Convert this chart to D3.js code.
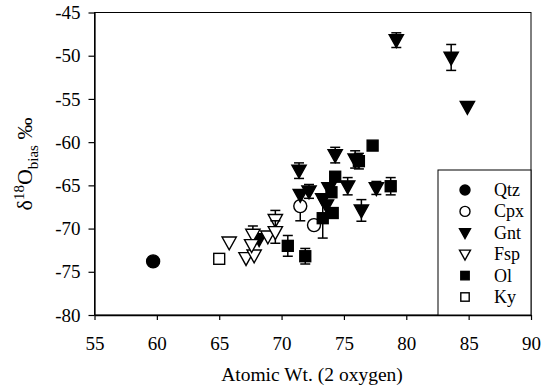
<!DOCTYPE html>
<html>
<head>
<meta charset="utf-8">
<script src="https://cdn.jsdelivr.net/npm/d3@7"></script>
<style>
  body { margin: 0; background: #fff; }
  text { font-family: "Liberation Serif", "DejaVu Serif", serif; fill: #000; }
</style>
</head>
<body>
<script>
// chart size
var w = 554;
var h = 387;

// data: [atomic wt, d18O bias, error]
var qtz = [[59.7, -73.8, 0]];
var cpx = [[71.5, -67.4, 1.7], [72.6, -69.6, 0]];
var gnt = [[79.2, -48.2, 0.85], [83.6, -50.2, 1.5], [84.9, -55.9, 0],
           [71.4, -63.3, 0.9], [74.3, -61.5, 0.9], [75.9, -62.0, 1.0],
           [75.3, -65.1, 1.0], [77.6, -65.3, 0.75], [76.4, -67.9, 1.25],
           [71.5, -66.1, 0], [72.2, -65.7, 0.8], [73.3, -66.6, 0],
           [73.8, -65.3, 0], [73.6, -67.3, 0], [68.2, -71.2, 0]];
var fsp = [[65.8, -71.6, 0], [67.15, -73.4, 0], [67.8, -73.1, 0],
           [67.7, -70.7, 1.0], [67.6, -71.9, 0], [68.9, -70.9, 0],
           [69.5, -69.0, 1.1], [69.5, -70.4, 1.3]];
var ol = [[77.3, -60.4, 0], [76.2, -62.2, 0.9], [74.3, -64.0, 0],
          [74.0, -65.8, 0], [78.75, -65.1, 1.0], [73.3, -68.8, 2.3],
          [74.1, -68.2, 0], [70.5, -72.0, 1.2], [71.9, -73.2, 0.9]];
var ky = [[65.0, -73.5, 0]];

var xTicks = [55, 60, 65, 70, 75, 80, 85, 90];
var yTicks = [-45, -50, -55, -60, -65, -70, -75, -80];

var series = [
  {name: "Qtz", data: qtz, shape: "circle", fill: "#000"},
  {name: "Cpx", data: cpx, shape: "circle", fill: "#fff"},
  {name: "Gnt", data: gnt, shape: "tri", fill: "#000"},
  {name: "Fsp", data: fsp, shape: "tri", fill: "#fff"},
  {name: "Ol", data: ol, shape: "square", fill: "#000"},
  {name: "Ky", data: ky, shape: "square", fill: "#fff"}
];

var mLeft = 94.5, mRight = 531, mTop = 12.5, mBottom = 315;

var svg = d3.select("body").append("svg")
  .attr("width", w)
  .attr("height", h);

var xScale = d3.scaleLinear().domain([55, 90]).range([mLeft, mRight]);
var yScale = d3.scaleLinear().domain([-80, -45]).range([mBottom, mTop]);

// frame
svg.append("rect")
  .attr("x", mLeft).attr("y", mTop)
  .attr("width", mRight - mLeft).attr("height", mBottom - mTop)
  .attr("fill", "none").attr("stroke", "#000").attr("stroke-width", 1);

// axes
var xAxis = svg.append("g")
  .attr("transform", "translate(0," + mBottom + ")")
  .call(d3.axisBottom(xScale).tickValues(xTicks).tickSize(5).tickPadding(17).tickSizeOuter(0));
var yAxis = svg.append("g")
  .attr("transform", "translate(" + mLeft + ",0)")
  .call(d3.axisLeft(yScale).tickValues(yTicks).tickSize(6).tickPadding(8).tickSizeOuter(0)
        .tickFormat(function(d) { return "-" + Math.abs(d); }));

[xAxis, yAxis].forEach(function(a) {
  a.select(".domain").attr("stroke", "#000").attr("stroke-width", 1.3);
  a.selectAll(".tick line").attr("stroke", "#000").attr("stroke-width", 1.2);
  a.selectAll(".tick text")
    .style("font-family", "Liberation Serif")
    .style("font-size", "19px")
    .attr("fill", "#000");
});

// marker drawing
function drawMarker(g, shape, fill, size) {
  var s;
  if (shape == "circle") {
    s = g.append("circle").attr("r", size / 2);
  } else if (shape == "tri") {
    var a = size * 0.55;
    s = g.append("path")
      .attr("d", "M" + (-a) + "," + (-a * 0.75) + "L" + a + "," + (-a * 0.75) + "L0," + (a * 1.05) + "Z");
  } else {
    s = g.append("rect").attr("x", -size * 0.42).attr("y", -size * 0.42)
      .attr("width", size * 0.84).attr("height", size * 0.84);
  }
  s.attr("fill", fill).attr("stroke", "#000").attr("stroke-width", 1.4);
}

var plot = svg.append("g");

series.forEach(function(ser) {
  var g = plot.selectAll(".pt-" + ser.name)
    .data(ser.data)
    .enter().append("g")
    .attr("transform", function(d) { return "translate(" + xScale(d[0]) + "," + yScale(d[1]) + ")"; });

  // error bars
  var eb = g.filter(function(d) { return d[2] > 0; });
  eb.append("line")
    .attr("x1", 0).attr("x2", 0)
    .attr("y1", function(d) { return yScale(d[1] + d[2]) - yScale(d[1]); })
    .attr("y2", function(d) { return yScale(d[1] - d[2]) - yScale(d[1]); })
    .attr("stroke", "#000").attr("stroke-width", 1.5);
  [1, -1].forEach(function(sign) {
    eb.append("line")
      .attr("x1", -5).attr("x2", 5)
      .attr("y1", function(d) { return yScale(d[1] + sign * d[2]) - yScale(d[1]); })
      .attr("y2", function(d) { return yScale(d[1] + sign * d[2]) - yScale(d[1]); })
      .attr("stroke", "#000").attr("stroke-width", 1.5);
  });

  g.each(function() {
    drawMarker(d3.select(this), ser.shape, ser.fill, 13);
  });
});

// legend
var lg = svg.append("g");
lg.append("rect")
  .attr("x", 438).attr("y", 170)
  .attr("width", mRight - 438).attr("height", mBottom - 170)
  .attr("fill", "#fff").attr("stroke", "#000").attr("stroke-width", 1);

var legendY = d3.scalePoint().domain(series.map(function(s) { return s.name; })).range([190, 297]);

series.forEach(function(ser) {
  var item = lg.append("g").attr("transform", "translate(465," + legendY(ser.name) + ")");
  drawMarker(item, ser.shape, ser.fill, 10);
  item.append("text")
    .attr("x", 29).attr("y", 6)
    .style("font-size", "18px")
    .text(ser.name);
});

// axis titles
svg.append("text")
  .attr("x", 312).attr("y", 381)
  .attr("text-anchor", "middle")
  .style("font-size", "19.5px")
  .text("Atomic Wt. (2 oxygen)");

var yl = svg.append("text")
  .attr("transform", "translate(32,164) rotate(-90)")
  .attr("text-anchor", "middle")
  .style("font-size", "22px");
yl.append("tspan").text("δ");
yl.append("tspan").attr("dy", -8).style("font-size", "15px").text("18");
yl.append("tspan").attr("dy", 8).text("O");
yl.append("tspan").attr("dy", 6).style("font-size", "15px").text("bias");
yl.append("tspan").attr("dy", -6).text(" ‰");
</script>
</body>
</html>
